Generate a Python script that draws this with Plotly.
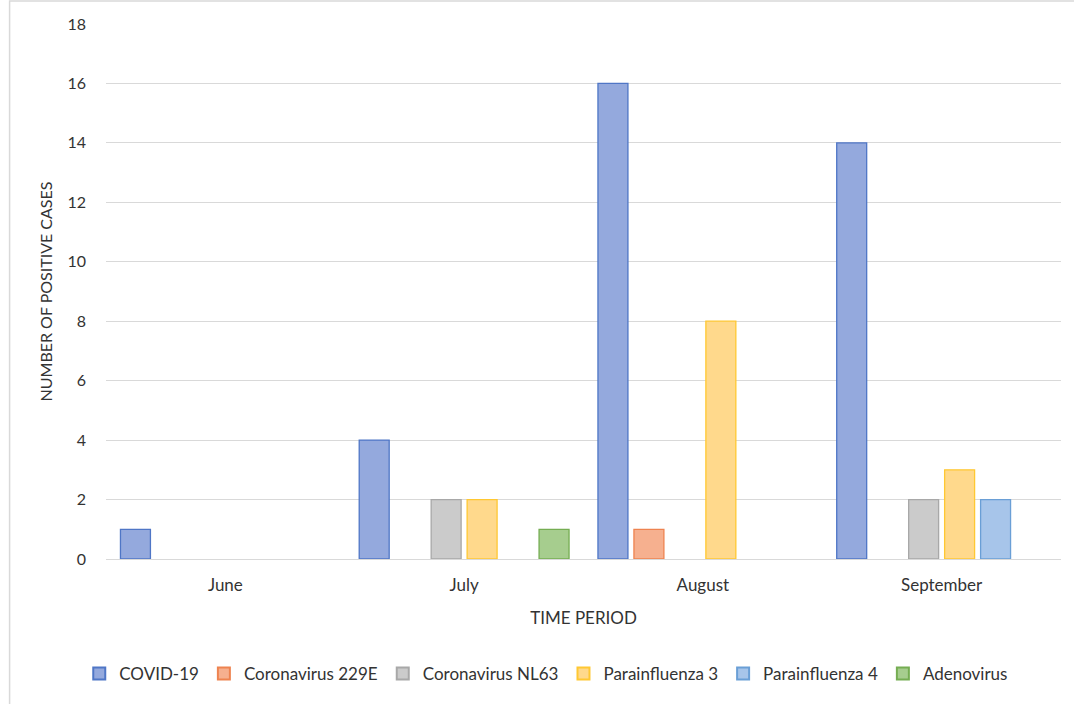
import plotly.graph_objects as go

months = ["June", "July", "August", "September"]
covid19 = [1, 4, 16, 14]
coronavirus_229e = [0, 0, 1, 0]
coronavirus_nl63 = [0, 2, 0, 2]
parainfluenza_3 = [0, 2, 8, 3]
parainfluenza_4 = [0, 0, 0, 2]
adenovirus = [0, 1, 0, 0]

series = [
    ("COVID-19", covid19, "#94a9dd", "#4f76c6"),
    ("Coronavirus 229E", coronavirus_229e, "#f6b08f", "#ee8350"),
    ("Coronavirus NL63", coronavirus_nl63, "#cbcbcb", "#a8a8a8"),
    ("Parainfluenza 3", parainfluenza_3, "#ffd98c", "#ffc832"),
    ("Parainfluenza 4", parainfluenza_4, "#a7c5ea", "#6a9fd6"),
    ("Adenovirus", adenovirus, "#a6cd8e", "#75ad52"),
]

fig = go.Figure()
for name, vals, fill, edge in series:
    # no outline on empty (zero) bars so they stay invisible
    widths = [1.3 if v else 0 for v in vals]
    fig.add_trace(go.Bar(
        name=name, x=months, y=vals,
        marker=dict(color=fill, line=dict(color=edge, width=widths)),
    ))

font_family = "Lato, 'Open Sans', sans-serif"
txt = "#333333"
fig.update_layout(
    width=1074, height=704,
    margin=dict(l=105.5, r=12.5, t=24, b=145),
    paper_bgcolor="white", plot_bgcolor="white",
    barmode="group", bargap=0.096, bargroupgap=0.167,
    font=dict(family=font_family, size=17, color=txt),
    xaxis=dict(
        title=dict(text="TIME PERIOD", font=dict(size=17, color=txt), standoff=18),
        tickfont=dict(size=17, color=txt),
        showgrid=False, showline=False, ticks="", ticklabelstandoff=14,
    ),
    yaxis=dict(
        title=dict(text="NUMBER OF POSITIVE CASES", font=dict(size=16, color=txt), standoff=10),
        range=[0, 18], dtick=2, tickfont=dict(size=16, color=txt),
        showgrid=True, gridcolor="#d9d9d9", gridwidth=1,
        zeroline=True, zerolinecolor="#d9d9d9", zerolinewidth=1,
        showline=False, ticks="", ticklabelstandoff=19,
    ),
    legend=dict(
        orientation="h", x=0.461, xanchor="center", y=-0.215, yanchor="middle",
        font=dict(size=17, color=txt), itemsizing="constant",
        traceorder="normal", itemwidth=30,
    ),
    shapes=[dict(
        type="rect", xref="paper", yref="paper",
        x0=-96.5 / 956, x1=1.05, y0=-0.4, y1=1 + 23 / 535,
        line=dict(color="#d9d9d9", width=1.5), layer="below",
    )],
)

fig.write_html("out.html")
